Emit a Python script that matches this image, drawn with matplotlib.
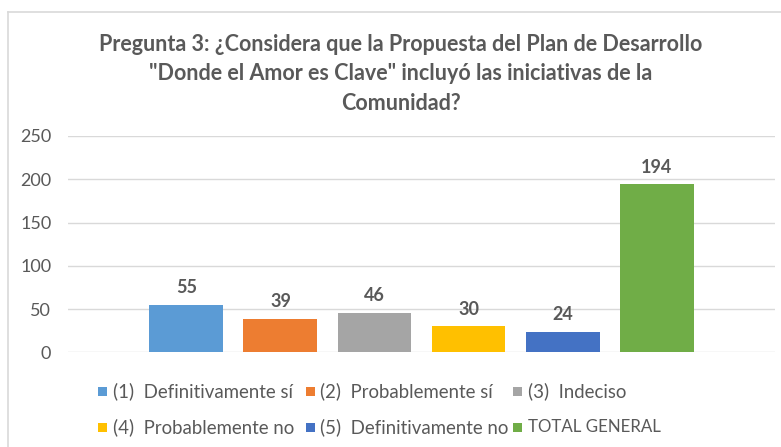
import matplotlib
matplotlib.use("Agg")
import matplotlib.pyplot as plt
from matplotlib.patches import Rectangle

W, H = 781, 447

# data
series = ["(1)  Definitivamente sí", "(2)  Probablemente sí", "(3)  Indeciso",
          "(4)  Probablemente no", "(5)  Definitivamente no", "TOTAL GENERAL"]
values = [55, 39, 46, 30, 24, 194]
colors = ["#5B9BD5", "#ED7D31", "#A5A5A5", "#FFC000", "#4472C4", "#70AD47"]
yticks = [0, 50, 100, 150, 200, 250]

title = ('Pregunta 3: ¿Considera que la Propuesta del Plan de Desarrollo\n'
         '"Donde el Amor es Clave" incluyó las iniciativas de la\n'
         'Comunidad?')

plt.rcParams['font.family'] = ['Lato', 'DejaVu Sans']
txt = "#595959"

fig = plt.figure(figsize=(W/100, H/100), dpi=100)
fig.patch.set_facecolor("white")

def fx(px): return px / W
def fy(py): return 1 - py / H

# frame lines (left and top)
fig.add_artist(plt.Line2D([fx(8), fx(8)], [fy(12), 0], color="#D9D9D9", lw=1.2))
fig.add_artist(plt.Line2D([fx(8), 1], [fy(12), fy(12)], color="#D9D9D9", lw=1.2))

ax = fig.add_axes([fx(68), fy(352.3), fx(775) - fx(68), fy(136) - fy(352.3)])
x = list(range(len(values)))
bars = ax.bar(x, values, width=0.785, color=colors)
ax.bar_label(bars, padding=6, fontsize=13, fontweight="bold", color=txt)

half = (775 - 68) / 94.06 / 2
ax.set_xlim(2.5 - half, 2.5 + half)
ax.set_ylim(0, 250)
ax.set_yticks(yticks)
ax.set_xticks([])
ax.yaxis.grid(True, color="#D9D9D9", lw=1)
ax.set_axisbelow(True)
for s in ax.spines.values():
    s.set_visible(False)
ax.tick_params(axis="y", length=0, pad=12, labelsize=13, labelcolor=txt)

fig.text(fx(401), fy(34), title, ha="center", va="top", fontsize=15.5,
         fontweight="bold", color=txt, linespacing=1.5)

# legend, laid out like the Excel one
leg = [(98, 113, 391), (306, 320, 391), (513, 528, 391),
       (98, 113, 427), (306, 320, 427), (513, 528, 427)]
sizes = [13.4, 13.4, 13.4, 13.4, 13.4, 12.2]
for (sx, tx, cy), lab, c, fs in zip(leg, series, colors, sizes):
    fig.add_artist(Rectangle((fx(sx), fy(cy + 4.5)), 9 / W, 9 / H,
                             transform=fig.transFigure, color=c, lw=0))
    fig.text(fx(tx), fy(cy), lab, ha="left", va="center", fontsize=fs, color=txt)

fig.savefig("out.png", dpi=100)
